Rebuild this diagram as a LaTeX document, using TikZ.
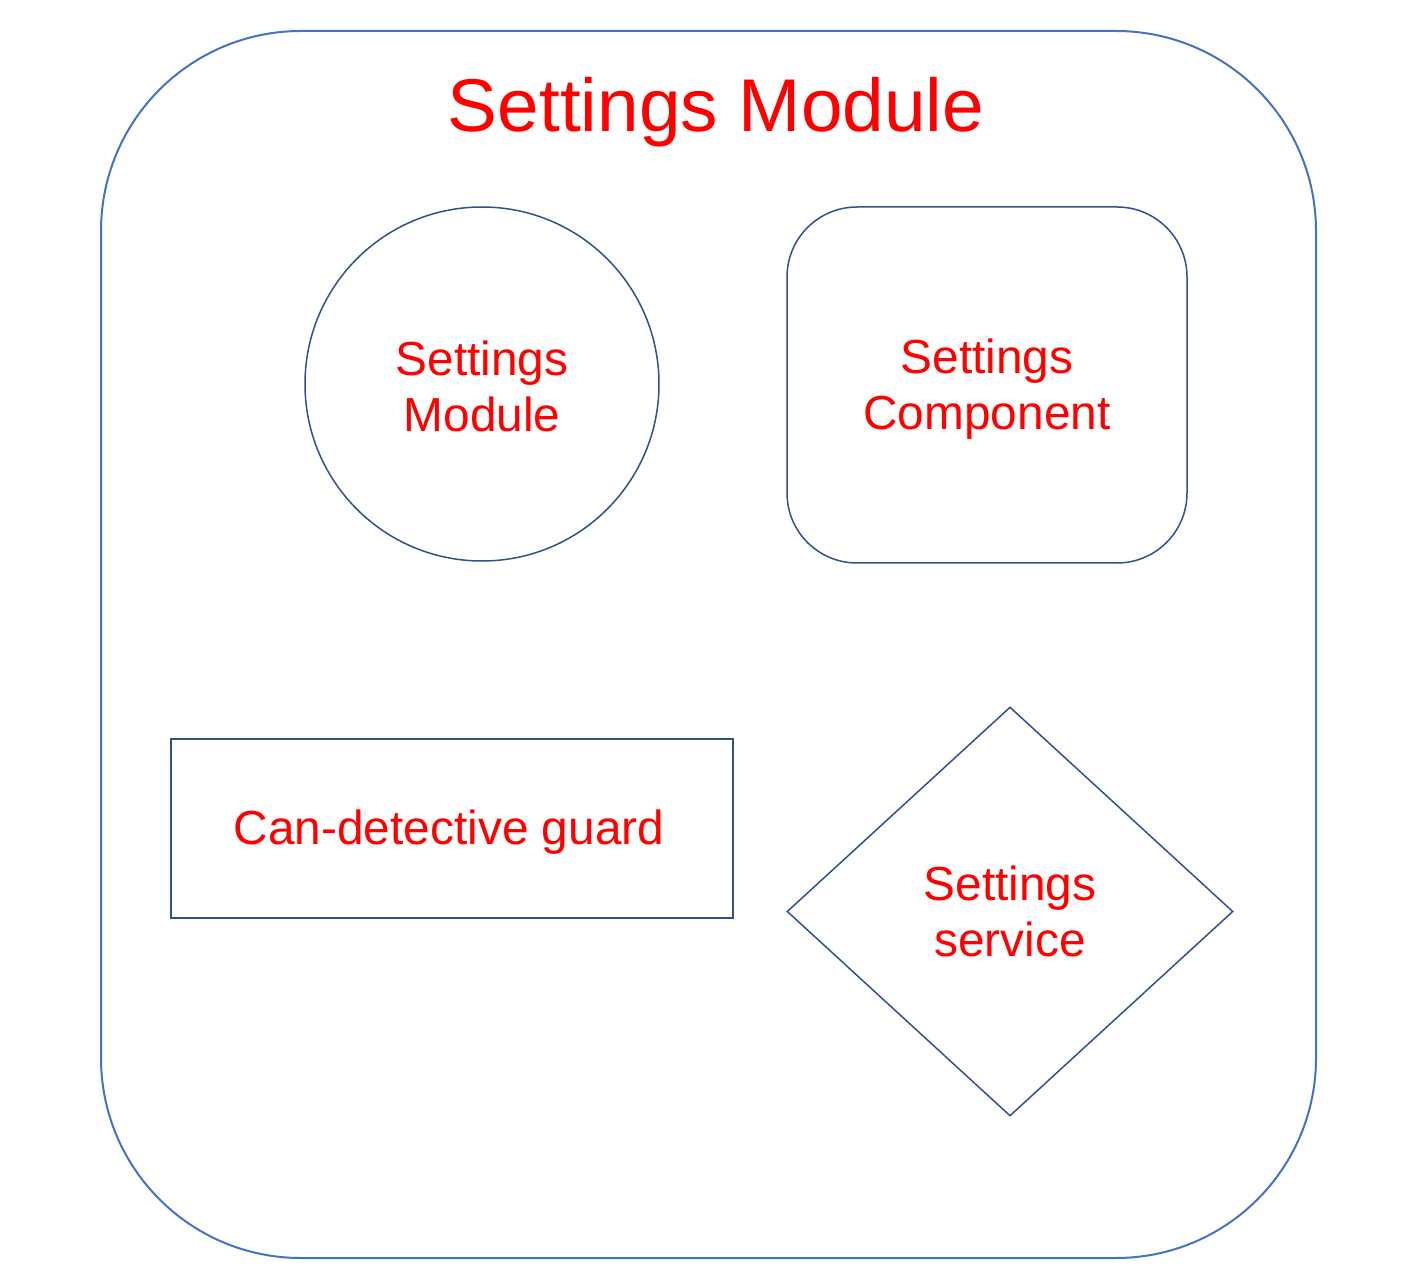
\documentclass[tikz,border=0pt]{standalone}
\usepackage{fontspec}
\setmainfont{Liberation Sans}
\usepackage{tikz}
\usetikzlibrary{positioning,shapes.geometric}
\definecolor{frameblue}{HTML}{4472C4}
\definecolor{shapeblue}{HTML}{2F528F}
\definecolor{labelred}{HTML}{FF0000}

\begin{document}
\begin{tikzpicture}[
  x=0.5pt, y=-0.5pt,
  every node/.style={align=center, text=labelred, inner sep=0pt, font=\fontsize{23.9}{28}\selectfont},
  outer/.style={rectangle, draw=frameblue, line width=1pt, rounded corners=100pt, minimum width=607.5pt, minimum height=613.5pt},
  title/.style={font=\fontsize{37.4}{45}\selectfont},
  modulenode/.style={circle, draw=shapeblue, line width=0.75pt, minimum size=177pt},
  compnode/.style={rectangle, draw=shapeblue, line width=0.75pt, rounded corners=35pt, minimum width=200pt, minimum height=178pt},
  guardnode/.style={rectangle, draw=shapeblue, line width=0.75pt, minimum width=281pt, minimum height=89.5pt},
  servicenode/.style={diamond, draw=shapeblue, line width=0.75pt, minimum width=223pt, minimum height=204.5pt}
]
\useasboundingbox (0,0) rectangle (1414,1288);

\node[outer] (frame) at (708.5,644.5) {};
\node[title] (heading) at (716,112) {Settings Module};

\node[modulenode] (module) at (482,384) {};
\node (modtext) at (482,386) {Settings\\Module};
\node[compnode] (component) at (987,385) {};
\node (comptext) at (987,389) {Settings\\Component};
\node[guardnode] (guard) at (452,828.5) {};
\node (guardtext) at (449,832) {Can-detective guard};
\node[servicenode] (service) at (1010,911.5) {Settings\\service};
\end{tikzpicture}
\end{document}
